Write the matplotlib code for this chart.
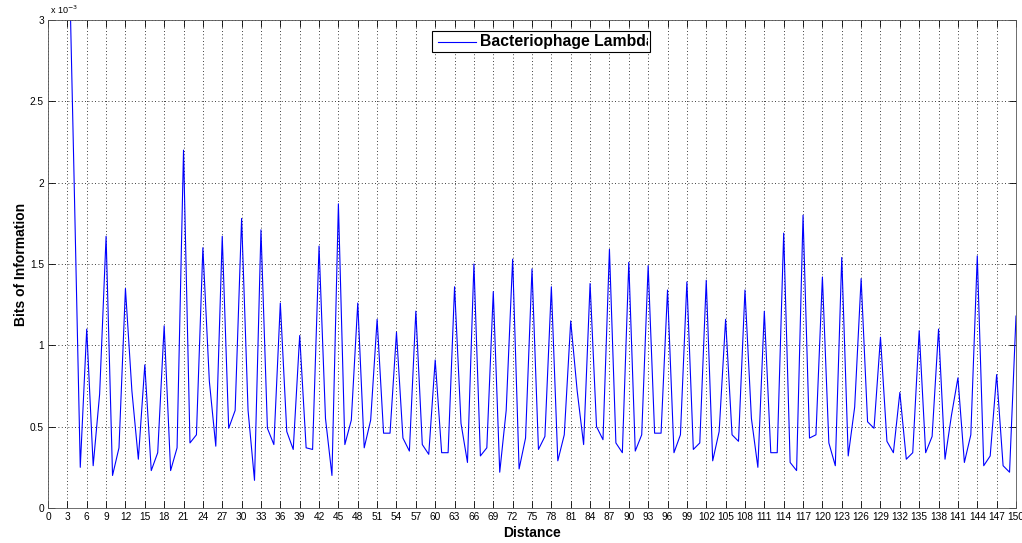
import matplotlib
matplotlib.use("Agg")
import matplotlib.pyplot as plt
from matplotlib.patches import Rectangle
from matplotlib.ticker import FuncFormatter, MultipleLocator

plt.rcParams['font.family'] = ['Liberation Sans', 'DejaVu Sans']

# distance 3..150, bits of information (x 1e-3)
distance = list(range(3, 151))
bits_e3 = [
    3.90, 2.10, 0.25, 1.10, 0.26, 0.70, 1.67, 0.20, 0.37, 1.35,   # 3-12
    0.72, 0.30, 0.88, 0.23, 0.34, 1.12, 0.23, 0.37, 2.20, 0.40,   # 13-22
    0.45, 1.60, 0.78, 0.38, 1.67, 0.49, 0.60, 1.78, 0.60, 0.17,   # 23-32
    1.71, 0.49, 0.39, 1.26, 0.47, 0.36, 1.06, 0.37, 0.36, 1.61,   # 33-42
    0.55, 0.20, 1.87, 0.39, 0.54, 1.26, 0.37, 0.54, 1.16, 0.46,   # 43-52
    0.46, 1.08, 0.43, 0.35, 1.21, 0.39, 0.33, 0.91, 0.34, 0.34,   # 53-62
    1.36, 0.52, 0.28, 1.50, 0.32, 0.37, 1.33, 0.22, 0.60, 1.53,   # 63-72
    0.24, 0.43, 1.47, 0.36, 0.44, 1.36, 0.29, 0.45, 1.15, 0.72,   # 73-82
    0.39, 1.38, 0.50, 0.42, 1.59, 0.40, 0.34, 1.51, 0.35, 0.45,   # 83-92
    1.49, 0.46, 0.46, 1.34, 0.34, 0.45, 1.39, 0.36, 0.40, 1.40,   # 93-102
    0.29, 0.47, 1.16, 0.45, 0.41, 1.34, 0.55, 0.25, 1.21, 0.34,   # 103-112
    0.34, 1.69, 0.28, 0.23, 1.80, 0.43, 0.45, 1.42, 0.40, 0.26,   # 113-122
    1.54, 0.32, 0.62, 1.41, 0.53, 0.49, 1.05, 0.41, 0.34, 0.71,   # 123-132
    0.30, 0.34, 1.09, 0.34, 0.44, 1.10, 0.30, 0.57, 0.80, 0.28,   # 133-142
    0.45, 1.55, 0.26, 0.32, 0.82, 0.26, 0.22, 1.18,               # 143-150
]
bits = [b * 1e-3 for b in bits_e3]

fig = plt.figure(figsize=(10.22, 5.43), dpi=100)
ax = fig.add_axes([48 / 1022, 35 / 543, 968 / 1022, 488 / 543])

ax.plot(distance, bits, color='blue', linewidth=0.8)

ax.set_xlim(0, 150)
ax.set_ylim(0, 3e-3)
ax.xaxis.set_major_locator(MultipleLocator(3))
ax.yaxis.set_major_locator(MultipleLocator(0.5e-3))
ax.yaxis.set_major_formatter(FuncFormatter(lambda v, p: f"{v * 1e3:g}"))
ax.tick_params(direction='in', length=5, width=0.6, top=True, right=True,
               labelsize=7.3, pad=3, colors='black')
ax.grid(True, color='black', linestyle=(0, (1, 3)), linewidth=0.6)
for s in ax.spines.values():
    s.set_linewidth(0.6)
    s.set_color('#555555')

ax.set_xlabel('Distance', fontsize=10, fontweight='bold', labelpad=3)
ax.set_ylabel('Bits of Information', fontsize=10, fontweight='bold', labelpad=1)
ax.text(0.002, 1.008, r'x 10$^{-3}$', transform=ax.transAxes, fontsize=6.5,
        ha='left', va='bottom')

# MATLAB-like legend box with clipped label
lx0, lx1 = (432 - 48) / 968, (650 - 48) / 968
ly0, ly1 = (508 - 52) / 488, (508 - 31) / 488
box = Rectangle((lx0, ly0), lx1 - lx0, ly1 - ly0, transform=ax.transAxes,
                facecolor='white', edgecolor='black', linewidth=0.8, zorder=5)
ax.add_patch(box)
ym = (ly0 + ly1) / 2
ax.plot([(438 - 48) / 968, (476 - 48) / 968], [ym, ym], transform=ax.transAxes,
        color='blue', linewidth=0.8, zorder=6, clip_on=False)
inner = Rectangle((lx0, ly0), lx1 - lx0 - 0.002, ly1 - ly0, transform=ax.transAxes,
                  facecolor='none', edgecolor='none')
ax.add_patch(inner)
t = ax.text((480 - 48) / 968, ym, 'Bacteriophage Lambda', transform=ax.transAxes,
            fontsize=11.3, fontweight='bold', ha='left', va='center', zorder=6)
t.set_clip_on(True)
t.set_clip_path(inner)

fig.savefig('out.png', dpi=100)
